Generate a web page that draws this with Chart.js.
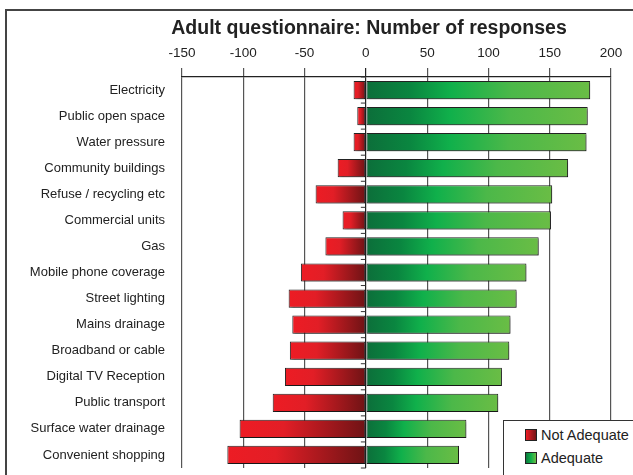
<!DOCTYPE html>
<html>
<head>
<meta charset="utf-8">
<script src="https://cdn.jsdelivr.net/npm/chart.js@4.4.1/dist/chart.umd.min.js"></script>
<style>
  body { margin: 0; background: #fff; font-family: "Liberation Sans", Arial, sans-serif; }
  #wrap { position: relative; width: 633px; height: 475px; overflow: hidden; }
  #surveyChart { position: absolute; left: 0; top: 0; }
  #frame { position: absolute; left: 5px; top: 9px; width: 700px; height: 600px;
           border-left: 2px solid #444; border-top: 2px solid #444; }
  #title { position: absolute; left: 0; width: 738px; top: 16px; text-align: center;
           font-weight: bold; font-size: 19.5px; color: #222; }
  #legend { position: absolute; left: 503px; top: 420px; width: 160px; height: 70px;
            border: 1px solid #333; background: #fff; font-size: 14.5px; color: #222; }
  .item { position: absolute; left: 21px; height: 16px; line-height: 16px; }
  .sw { display: inline-block; width: 10px; height: 10px; border: 1px solid #222;
        vertical-align: -1px; margin-right: 4px; }
</style>
</head>
<body>
<div id="wrap">
  <div id="frame"></div>
  <canvas id="surveyChart" width="633" height="475"></canvas>
  <div id="title">Adult questionnaire: Number of responses</div>
  <div id="legend">
    <div class="item" style="top:6px"><span class="sw" style="background:linear-gradient(90deg,#ed1c24,#741416)"></span>Not Adequate</div>
    <div class="item" style="top:29px"><span class="sw" style="background:linear-gradient(90deg,#0b7a3e,#10b04a,#6abd45)"></span>Adequate</div>
  </div>
</div>
<script>
// data
const categories = ['Electricity', 'Public open space', 'Water pressure', 'Community buildings',
    'Refuse / recycling etc', 'Commercial units', 'Gas', 'Mobile phone coverage', 'Street lighting',
    'Mains drainage', 'Broadband or cable', 'Digital TV Reception', 'Public transport',
    'Surface water drainage', 'Convenient shopping'];
const notAdequate = [-10, -7, -10, -23, -41, -19, -33, -53, -63, -60, -62, -66, -76, -103, -113];
const adequate = [183, 181, 180, 165, 152, 151, 141, 131, 123, 118, 117, 111, 108, 82, 76];
const axisMin = -150;
const axisMax = 200;
const axisStep = 50;

// gradient running along each bar, from its end to the zero line
function redFill(c) {
    const { ctx, chartArea, scales } = c.chart;
    if (!chartArea || c.raw === undefined) return '#c81e24';
    const xa = scales.x.getPixelForValue(c.raw);
    const xb = scales.x.getPixelForValue(0);
    const g = ctx.createLinearGradient(xa, 0, xb, 0);
    g.addColorStop(0, '#ed1c24');
    g.addColorStop(0.35, '#e21e26');
    g.addColorStop(1, '#6e1315');
    return g;
}

function greenFill(c) {
    const { ctx, chartArea, scales } = c.chart;
    if (!chartArea || c.raw === undefined) return '#2a9a44';
    const xa = scales.x.getPixelForValue(0);
    const xb = scales.x.getPixelForValue(c.raw);
    const g = ctx.createLinearGradient(xa, 0, xb, 0);
    g.addColorStop(0, '#0c6e3a');
    g.addColorStop(0.2, '#0a8640');
    g.addColorStop(0.38, '#10b04b');
    g.addColorStop(0.65, '#4cb849');
    g.addColorStop(1, '#6abd45');
    return g;
}

// soft drop shadow under the bars
const barShadow = {
    id: 'barShadow',
    beforeDatasetsDraw(chart) {
        const ctx = chart.ctx;
        ctx.save();
        ctx.shadowColor = 'rgba(0,0,0,0.35)';
        ctx.shadowOffsetX = 2;
        ctx.shadowOffsetY = 2;
        ctx.shadowBlur = 2;
    },
    afterDatasetsDraw(chart) {
        chart.ctx.restore();
    }
};

// small marks on the zero line between categories
const zeroMarks = {
    id: 'zeroMarks',
    afterDatasetsDraw(chart) {
        const { ctx, scales: { x, y } } = chart;
        const x0 = x.getPixelForValue(0);
        const step = y.getPixelForValue(1) - y.getPixelForValue(0);
        ctx.save();
        ctx.strokeStyle = '#333';
        ctx.lineWidth = 1;
        for (let i = 0; i <= categories.length; i++) {
            const yy = y.getPixelForValue(i) - step / 2;
            ctx.beginPath();
            ctx.moveTo(x0 - 5, yy);
            ctx.lineTo(x0, yy);
            ctx.stroke();
        }
        ctx.restore();
    }
};

const ctx1 = document.getElementById('surveyChart');

new Chart(ctx1, {
    type: 'bar',
    data: {
        labels: categories,
        datasets: [{
            label: 'Not Adequate',
            data: notAdequate,
            backgroundColor: redFill,
            borderColor: '#222',
            borderWidth: 1,
            borderSkipped: false,
            barPercentage: 0.7,
            categoryPercentage: 1
        }, {
            label: 'Adequate',
            data: adequate,
            backgroundColor: greenFill,
            borderColor: '#222',
            borderWidth: 1,
            borderSkipped: false,
            barPercentage: 0.7,
            categoryPercentage: 1
        }]
    },
    options: {
        indexAxis: 'y',
        responsive: false,
        animation: false,
        layout: {
            padding: { left: 0, top: 0, right: 22, bottom: 7 }
        },
        plugins: {
            legend: { display: false },
            title: { display: false },
            tooltip: { enabled: false }
        },
        scales: {
            x: {
                position: 'top',
                stacked: true,
                min: axisMin,
                max: axisMax,
                afterFit(scale) { scale.height = 77; },
                ticks: {
                    stepSize: axisStep,
                    padding: 7,
                    color: '#222',
                    font: { family: '"Liberation Sans", Arial, sans-serif', size: 13.5 }
                },
                grid: {
                    color: (c) => c.tick && c.tick.value === 0 ? '#222' : '#555',
                    lineWidth: 1.2,
                    tickLength: 9
                },
                border: { color: '#222', width: 1.2 }
            },
            y: {
                stacked: true,
                afterFit(scale) {
                    scale.width = 182;
                    scale.paddingTop = 0;
                    scale.paddingBottom = 0;
                },
                ticks: {
                    padding: 9,
                    color: '#222',
                    font: { family: '"Liberation Sans", Arial, sans-serif', size: 13 }
                },
                grid: { display: false },
                border: { display: false }
            }
        }
    },
    plugins: [barShadow, zeroMarks]
});
</script>
</body>
</html>
